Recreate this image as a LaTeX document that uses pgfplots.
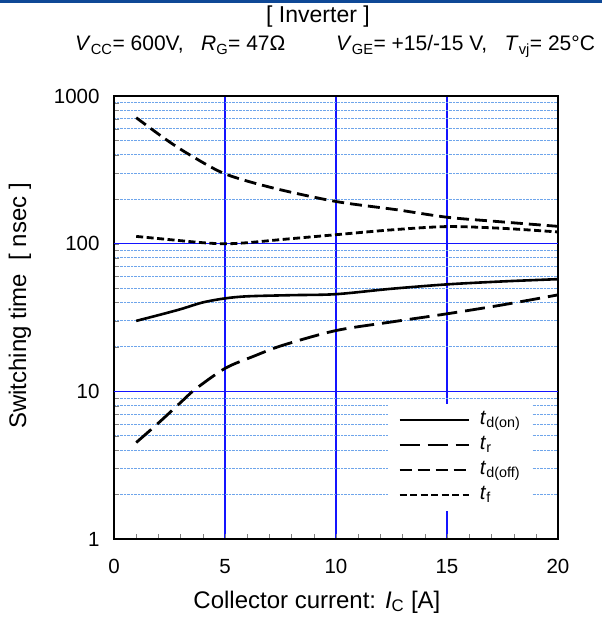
\documentclass[border=0pt]{standalone}
\usepackage{fontspec}
\setmainfont{Liberation Sans}
\usepackage{pgfplots}
\pgfplotsset{compat=1.18}
\definecolor{topbar}{RGB}{14,72,150}
\definecolor{mgrid}{RGB}{20,20,255}
\definecolor{mingrid}{RGB}{110,165,235}
\newcommand{\fs}[1]{\fontsize{#1}{#1}\selectfont}
\begin{document}
\begin{tikzpicture}[x=1pt,y=1pt]
\useasboundingbox (-114,-82) rectangle (488,539);
\fill[topbar] (-114,536) rectangle (488,539);
\node[anchor=base] at (204,516) {\fs{23}[ Inverter ]};
\node[anchor=base west, inner sep=0pt] at (-39,488) {\fs{21}\textit{V}\textsubscript{CC}= 600V,\ \ \ \textit{R}\textsubscript{G}= 47Ω};
\node[anchor=base west, inner sep=0pt] at (222,488) {\fs{21}\textit{V}\textsubscript{GE}= +15/-15 V,\ \ \ \textit{T}\textsubscript{vj}= 25°C};
\begin{axis}[
  width=444pt, height=443pt, scale only axis,
  xmin=0, xmax=20, ymin=1, ymax=1000, ymode=log,
  xtick={0,5,10,15,20}, minor x tick num=4,
  ytick={1,10,100,1000}, yticklabels={1,10,100,1000},
  tick pos=left,
  major tick length=5pt, minor tick length=5pt,
  xmajorgrids, yminorgrids,
  major grid style={mgrid, line width=1.4pt},
  minor grid style={mingrid, densely dotted, line width=1pt},
  axis line style={black, line width=1.5pt},
  /pgf/number format/assume math mode=true,
  ticklabel style={font=\fs{20.5}},
  yticklabel style={xshift=-11pt},
  xticklabel style={yshift=-17pt},
  xlabel={Collector current: \textit{I}\textsubscript{C} [A]},
  ylabel={Switching time\ \ [ nsec ]},
  label style={font=\fs{24}},
  xlabel style={at={(axis description cs:0.457,-0.156)}, anchor=base},
  ylabel style={at={(axis description cs:-0.198,0.526)}, anchor=base},
  legend cell align=left,
  legend style={at={(rel axis cs:0.617,0.305)}, anchor=north west, draw=none, fill=white,
    font=\fs{20.5}, row sep=1pt, column sep=8pt, inner xsep=10pt, inner ysep=4pt,
    nodes={inner sep=2pt, text height=14pt, text depth=6pt}},
  legend image code/.code={\draw[#1] (0pt,0pt) -- (69pt,0pt);},
]
\addplot[mgrid, line width=1.4pt, forget plot] coordinates {(0,10) (20,10)};
\addplot[mgrid, line width=1.4pt, forget plot] coordinates {(0,100) (20,100)};
\addplot[black, line width=2.6pt, smooth] coordinates {
(1,30) (2,32.8) (3,36) (4,40) (5,42.6) (6,44) (8,44.8) (10,45.5) (12.5,49.5) (15,53) (17.5,55.5) (20,57.5)};
\addlegendentry{\textit{t}\textsubscript{d(on)}}
\addplot[black, line width=2.8pt, dash pattern=on 20pt off 8pt, smooth] coordinates {
(1,4.5) (2,6.1) (3,8.4) (3.65,10.3) (5,14.3) (6.3,17.3) (7.6,20.5) (10,25.8) (12.5,29.5) (15,33.5) (17.5,38.5) (20,45)};
\addlegendentry{\textit{t}\textsubscript{r}}
\addplot[black, line width=2.8pt, dash pattern=on 12pt off 6pt, smooth] coordinates {
(1,713) (2.37,504) (3.42,399) (5,297) (7.18,238) (10,193) (12.7,170) (15,151) (17.2,141.5) (20,131)};
\addlegendentry{\textit{t}\textsubscript{d(off)}}
\addplot[black, line width=2.8pt, dash pattern=on 7pt off 3.5pt, smooth] coordinates {
(1,112) (2.5,106.5) (4,101.5) (5,99.8) (6,101.5) (7.5,106.5) (10,115) (12.5,124) (15,130.5) (17.5,127) (20,120)};
\addlegendentry{\textit{t}\textsubscript{f}}
\end{axis}
\end{tikzpicture}
\end{document}
